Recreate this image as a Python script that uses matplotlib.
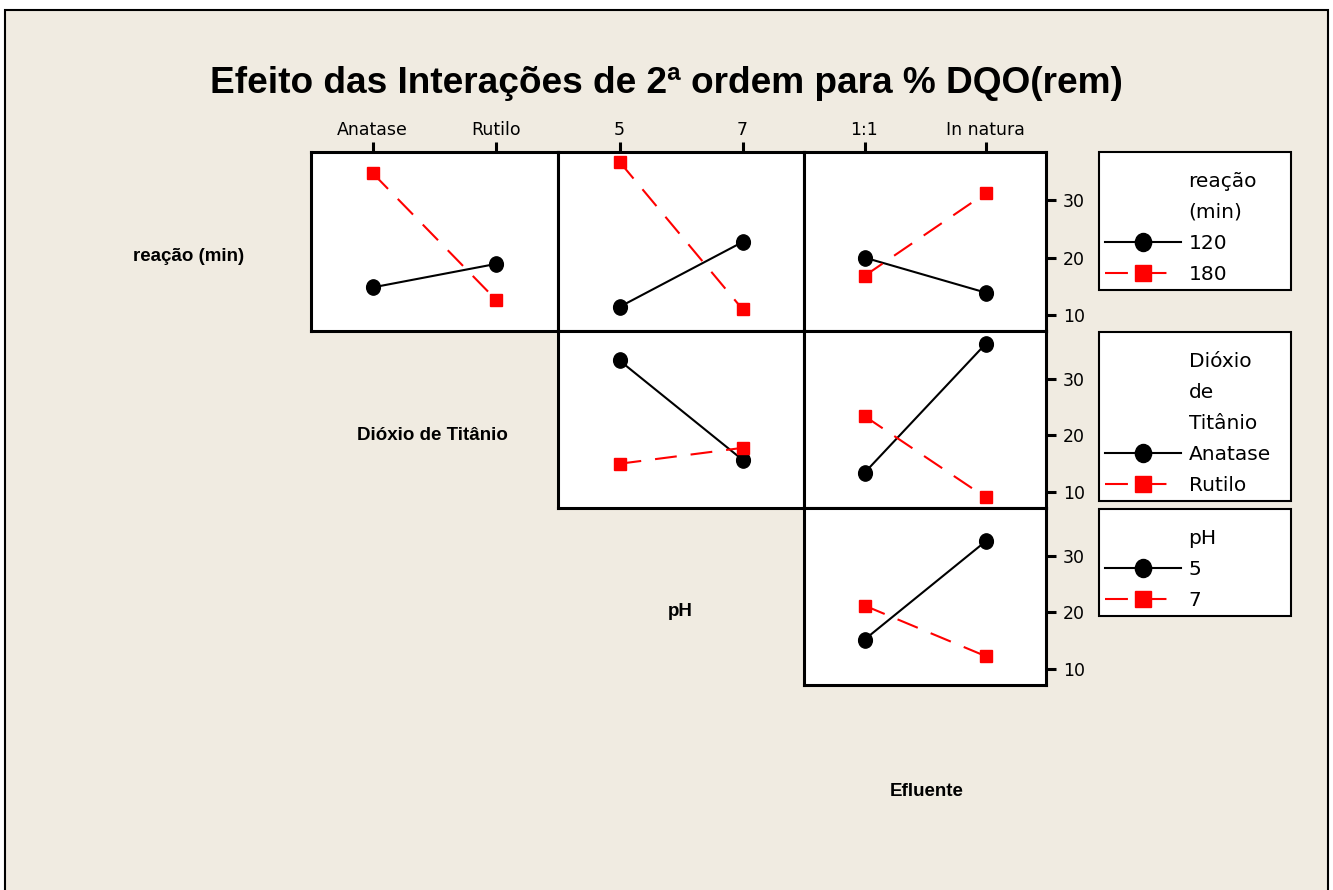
import matplotlib
matplotlib.use("Agg")
import matplotlib.pyplot as plt
from matplotlib.lines import Line2D
from matplotlib.patches import Rectangle
from matplotlib.markers import MarkerStyle
from matplotlib.transforms import Affine2D

W, H = 1333, 890
BG = "#F0EBE1"

# Factor levels
reacao_levels = ["120", "180"]
dioxido_levels = ["Anatase", "Rutilo"]
ph_levels = ["5", "7"]
efluente_levels = ["1:1", "In natura"]

# Mean % DQO(rem): one row per level of the trace factor, one column per x level
reacao_x_dioxido = [[14.8, 18.9], [34.7, 12.6]]
reacao_x_ph = [[11.4, 22.7], [36.7, 11.0]]
reacao_x_efluente = [[20.0, 13.9], [16.8, 31.2]]
dioxido_x_ph = [[33.2, 15.7], [15.0, 17.8]]
dioxido_x_efluente = [[13.4, 36.1], [23.4, 9.1]]
ph_x_efluente = [[15.2, 32.5], [21.2, 12.3]]

y_ticks = [10, 20, 30]

title_text = "Efeito das Interações de 2ª ordem para % DQO(rem)"
factor_names = ["reação (min)", "Dióxio de Titânio", "pH", "Efluente"]
legend_titles = [["reação", "(min)"], ["Dióxio", "de", "Titânio"], ["pH"]]
legend_levels = [reacao_levels, dioxido_levels, ph_levels]

# Layout (pixels)
col_edges = [311, 558, 804, 1046]
row_edges = [152, 331, 508, 685]
legend_boxes = [(1099, 152, 1291, 293), (1099, 332, 1291, 502), (1099, 509, 1291, 614)]
label_centers = [(189, 256), (432, 436), (680, 612), (927, 791)]

panels = {
    (0, 0): (reacao_x_dioxido, dioxido_levels),
    (0, 1): (reacao_x_ph, ph_levels),
    (0, 2): (reacao_x_efluente, efluente_levels),
    (1, 1): (dioxido_x_ph, ph_levels),
    (1, 2): (dioxido_x_efluente, efluente_levels),
    (2, 2): (ph_x_efluente, efluente_levels),
}

SPINE_LW = 2.2
DASH = (0, (10.5, 6.7))
LEGEND_DASH = (0, (11, 7.5))
circle_m = MarkerStyle("o", transform=Affine2D().scale(0.9, 1.0))

fig = plt.figure(figsize=(W / 100, H / 100), dpi=100)
fig.patch.set_facecolor("white")
fig.add_artist(Rectangle((5 / W, -0.02), 1323 / W, 1 - 10 / H + 0.02,
                         transform=fig.transFigure, facecolor=BG,
                         edgecolor="black", linewidth=1.5, zorder=0))


def panel_axes(r, c):
    x0, x1 = col_edges[c], col_edges[c + 1]
    y0, y1 = row_edges[r], row_edges[r + 1]
    return fig.add_axes([x0 / W, 1 - y1 / H, (x1 - x0) / W, (y1 - y0) / H])


for (r, c), (vals, xlv) in panels.items():
    ax = panel_axes(r, c)
    ax.set_facecolor("white")
    xs = list(range(len(xlv)))
    ax.plot(xs, vals[0], color="black", lw=1.5, ls="-", marker=circle_m,
            ms=11, zorder=3, clip_on=False)
    ax.plot(xs, vals[1], color="red", lw=1.5, ls=DASH, marker="s",
            ms=8.6, zorder=3, clip_on=False)
    ax.set_xlim(-0.5, 1.5)
    ax.set_ylim(7.2, 38.4)
    for sp in ax.spines.values():
        sp.set_linewidth(SPINE_LW)
    if r == 0:
        ax.xaxis.tick_top()
        ax.set_xticks(xs)
        ax.set_xticklabels(xlv)
        ax.tick_params(axis="x", direction="out", length=7, width=SPINE_LW,
                       labelsize=12.5, pad=2.5)
    else:
        ax.set_xticks([])
    if c == 2:
        ax.yaxis.tick_right()
        ax.set_yticks(y_ticks)
        ax.tick_params(axis="y", direction="out", length=7.2, width=SPINE_LW,
                       labelsize=12.5, pad=5)
    else:
        ax.set_yticks([])

# Legends, one per trace factor (a tiny blank title adds room at the top)
for (x0, y0, x1, y1), ttl, lv in zip(legend_boxes, legend_titles, legend_levels):
    blank = [Line2D([], [], alpha=0) for _ in ttl]
    h1 = Line2D([], [], color="black", lw=1.5, marker=circle_m, ms=13)
    h2 = Line2D([], [], color="red", lw=1.5, ls=LEGEND_DASH, marker="s", ms=11.5)
    leg = fig.legend(blank + [h1, h2], ttl + lv, loc="upper left",
                     bbox_to_anchor=(x0 / W, 1 - y1 / H, (x1 - x0) / W, (y1 - y0) / H),
                     bbox_transform=fig.transFigure, mode="expand",
                     borderaxespad=0, frameon=True, fancybox=False,
                     edgecolor="black", facecolor="white", framealpha=1,
                     prop={"family": "DejaVu Sans", "size": 14.5},
                     title=" ", title_fontsize=1,
                     handlelength=3.73, handletextpad=0.4, borderpad=0.32,
                     labelspacing=0.6)
    leg.get_frame().set_linewidth(1.5)

# Factor names on the diagonal
for name, (cx, cy) in zip(factor_names, label_centers):
    fig.text(cx / W, 1 - cy / H, name, ha="center", va="center",
             fontsize=13.5, fontweight="bold", family="Liberation Sans")

title = fig.text(666 / W, 1 - 93 / H, title_text, ha="center", va="baseline",
                 fontsize=25, fontweight="bold", family="Liberation Sans")
fig.canvas.draw()
tw = title.get_window_extent().width
title.set_fontsize(25 * 913 / tw)

fig.savefig("out.png", dpi=100, facecolor=fig.get_facecolor())
